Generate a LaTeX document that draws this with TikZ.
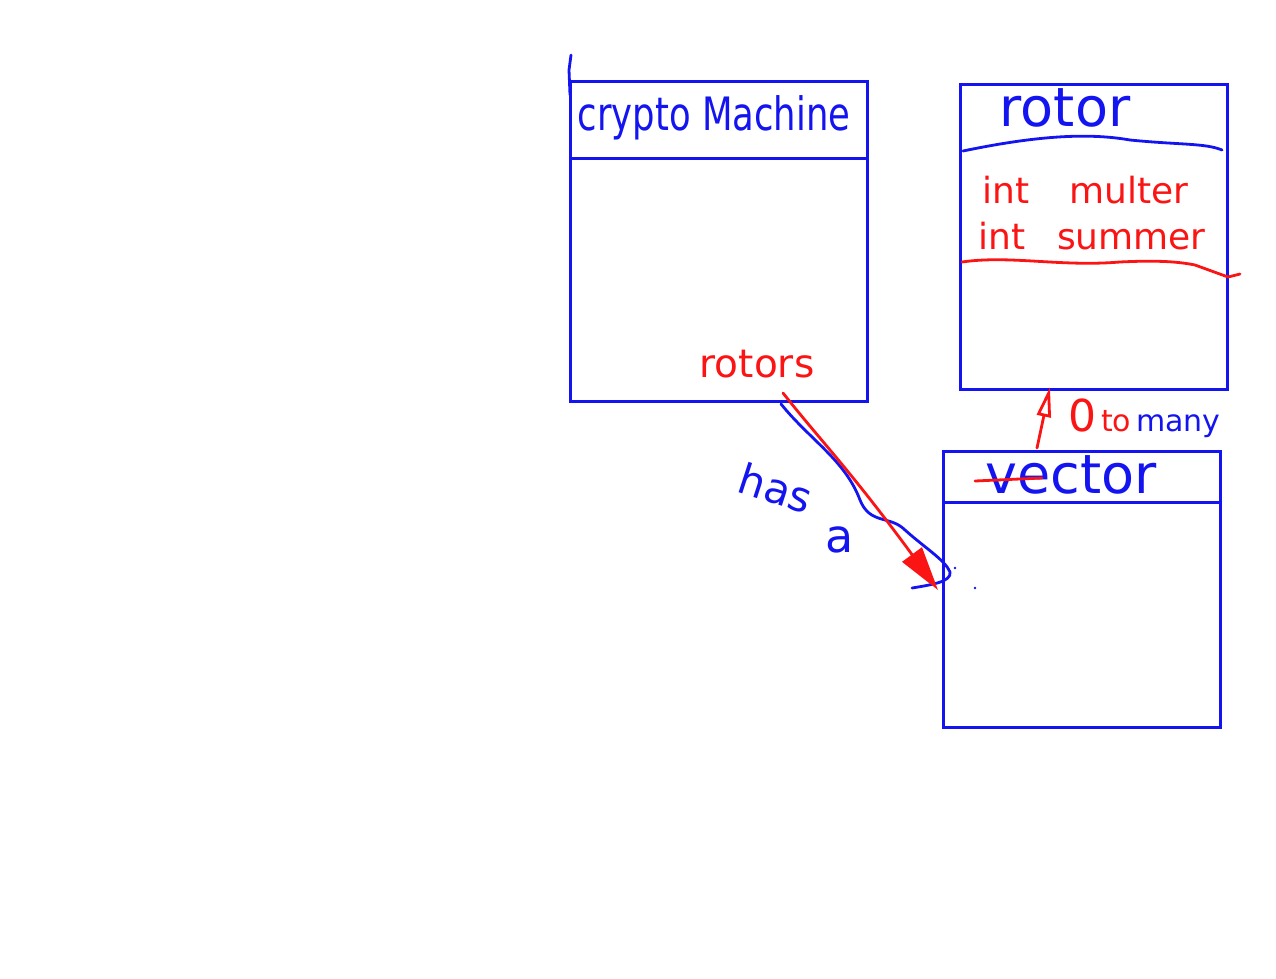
\documentclass[tikz,border=0pt]{standalone}
\usepackage{fontspec}
\setmainfont{DejaVu Sans}
\usetikzlibrary{arrows.meta,calc}
\definecolor{pblue}{RGB}{20,20,240}
\definecolor{pred}{RGB}{250,20,20}
\tikzset{
  box/.style={draw=pblue, line width=3pt},
  sep/.style={draw=pblue, line width=3pt},
  ink/.style={line width=2.8pt, line cap=round, line join=round},
  btxt/.style={text=pblue, inner sep=0pt},
  rtxt/.style={text=pred, inner sep=0pt},
}
\begin{document}
\begin{tikzpicture}[x=1pt,y=-1pt]
\useasboundingbox (0,0) rectangle (1276,979);
% boxes
\node[box, minimum width=297pt, minimum height=320pt, anchor=north west, inner sep=0pt] (cm) at (569,80) {};
\draw[sep] (569,158) coordinate (cmL) -- (866,158) coordinate (cmR);
\node[box, minimum width=267pt, minimum height=305pt, anchor=north west, inner sep=0pt] (rot) at (959,83) {};
\node[box, minimum width=277pt, minimum height=276pt, anchor=north west, inner sep=0pt] (vec) at (942,450) {};
\draw[sep] (942,502) coordinate (vL) -- (1219,502) coordinate (vR);
% mark "1"
\draw[ink, draw=pblue] (571,55) -- (569,70) -- (570,95);
% rotor lines
\draw[ink, draw=pblue] (963,151) .. controls (1040,135) and (1090,133) .. (1130,140) .. controls (1180,145) and (1205,143) .. (1222,150);
\draw[ink, draw=pred] (962,262) .. controls (1010,255) and (1060,267) .. (1120,262) .. controls (1160,260) and (1180,262) .. (1195,265) -- (1228,277) -- (1240,274);
% texts
\node[btxt, font=\fontsize{46}{46}\selectfont] (t1) at (714,118) {\scalebox{0.77}[1]{crypto Machine}};
\node[btxt, font=\fontsize{54}{54}\selectfont] (t2) at (1065,108) {rotor};
\node[rtxt, font=\fontsize{36}{36}\selectfont, anchor=west] (t3) at (982,190) {int\hspace{40pt}multer};
\node[rtxt, font=\fontsize{36}{36}\selectfont, anchor=west] (t4) at (978,236) {int\hspace{32pt}summer};
\node[rtxt, font=\fontsize{39}{39}\selectfont] (t5) at (757,364) {rotors};
\node[btxt, font=\fontsize{42}{42}\selectfont, rotate=-18] (t6) at (776,488) {has};
\node[btxt, font=\fontsize{46}{46}\selectfont] (t6b) at (840,540) {a};
\node[btxt, font=\fontsize{30}{30}\selectfont, anchor=west] (t7) at (1068,418) {{\color{pred}\fontsize{44}{44}\selectfont 0}\,{\color{pred}to}\,many};
\node[btxt, font=\fontsize{54}{54}\selectfont] (t8) at (1071,475) {vector};
\draw[ink, draw=pred] (975,481) -- (1042,478);
% connector crypto -> vector
\coordinate (s1) at (781,404);
\coordinate (e1) at (912,588);
\draw[ink, draw=pblue] (s1) .. controls (810,440) and (845,460) .. (860,500) .. controls (870,525) and (890,515) .. (905,530) .. controls (925,548) and (945,560) .. (950,572) .. controls (952,582) and (930,585) .. (e1);
\draw[ink, draw=pred, -{Triangle[length=44pt,width=24pt]}] ($(s1)+(2,-11)$) .. controls (820,440) and (850,470) .. (938,590);
\fill[pblue] (955,568) circle (1.4pt) (975,588) circle (1.4pt);
% arrow vector -> rotor
\draw[ink, draw=pred, -{Triangle[length=30pt,width=14pt,open]}] ($(vec.north west)+(95,-2)$) -- ($(rot.south west)+(91,-4)$);
\end{tikzpicture}
\end{document}
